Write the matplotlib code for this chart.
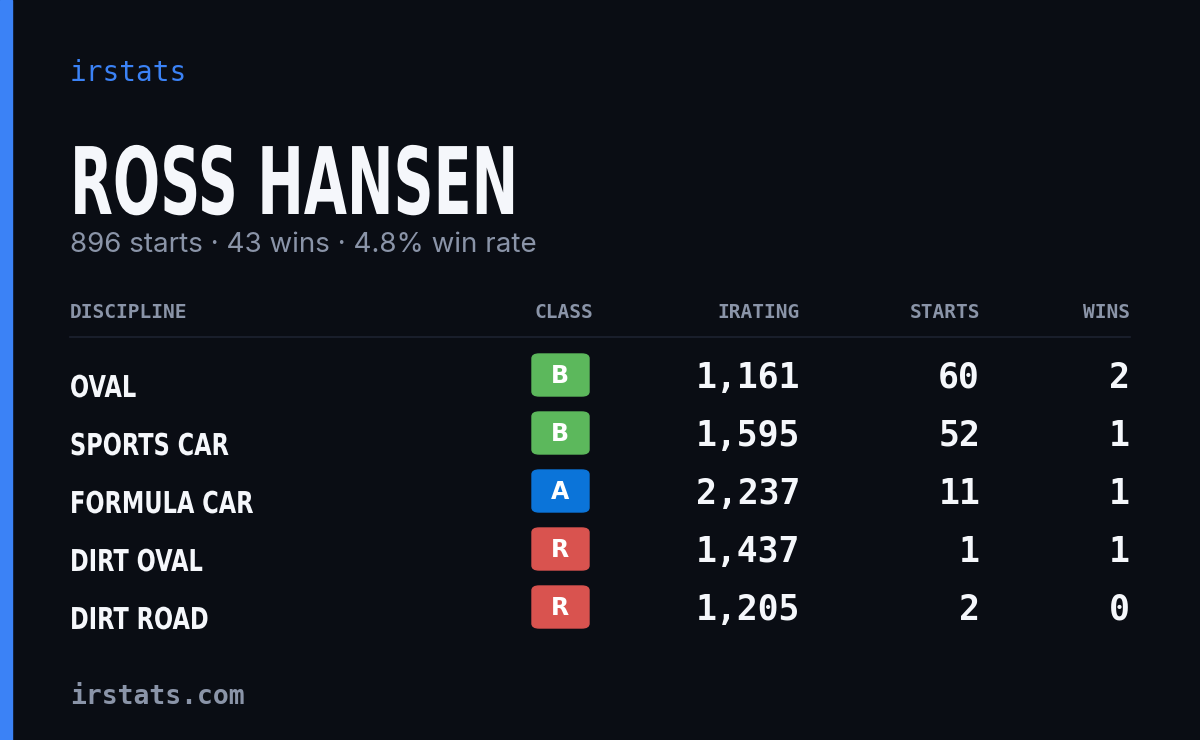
import matplotlib.pyplot as plt
from matplotlib.patches import FancyBboxPatch, Rectangle, PathPatch
from matplotlib.textpath import TextPath
from matplotlib.font_manager import FontProperties
from matplotlib.transforms import Affine2D

# data
driver = "ROSS HANSEN"
summary = "896 starts · 43 wins · 4.8% win rate"
headers = ["DISCIPLINE", "CLASS", "IRATING", "STARTS", "WINS"]
disciplines = ["OVAL", "SPORTS CAR", "FORMULA CAR", "DIRT OVAL", "DIRT ROAD"]
classes = ["B", "B", "A", "R", "R"]
iratings = [1161, 1595, 2237, 1437, 1205]
starts = [60, 52, 11, 1, 2]
wins = [2, 1, 1, 1, 0]
class_colors = {"A": "#0b74d9", "B": "#5cb85c", "R": "#d9534f"}

W, H = 1200, 740
BG = "#0a0d14"
fig = plt.figure(figsize=(W / 100, H / 100), dpi=100, facecolor=BG)
pix = Affine2D().scale(1 / W, 1 / H) + fig.transFigure


def px(x, y):
    return x / W, 1 - y / H


def txt(x, y, s, **kw):
    fig.text(*px(x, y), s, **kw)


bold = FontProperties(family="DejaVu Sans", weight="bold")


def narrow(x, baseline, s, cap, sx, color="#f5f7fb"):
    # condensed text: DejaVu Bold squeezed horizontally
    size = cap / 0.73
    tp = TextPath((0, 0), s, size=size, prop=bold)
    tr = Affine2D().scale(sx, 1).translate(x, H - baseline) + pix
    fig.patches.append(PathPatch(tp, transform=tr, color=color, lw=0))


def width_of(s, cap):
    return TextPath((0, 0), s, size=cap / 0.73, prop=bold).get_extents().width


fig.patches.append(Rectangle((0, 0), 12 / W, 1, transform=fig.transFigure, color="#3b82f6"))

mono = "DejaVu Sans Mono"

txt(70, 73, "irstats", family=mono, fontsize=20, color="#3b82f6", va="center")
narrow(70, 214, driver, 68, 438 / width_of(driver, 68))
txt(70, 245, summary, family="Inter", fontsize=20, color="#8a94a8", va="center")

hx = [70, 593, 800, 980, 1130]
ha = ["left", "right", "right", "right", "right"]
for x, h, a in zip(hx, headers, ha):
    txt(x, 313, h, family=mono, fontweight="bold", fontsize=14, color="#8a94a8", ha=a, va="center")
fig.add_artist(plt.Line2D([70 / W, 1130 / W], [1 - 337 / H] * 2, color="#1d2230", lw=1.2))

sx_rows = 181 / width_of("FORMULA CAR", 22)
for i, d in enumerate(disciplines):
    y = 378 + 58 * i
    narrow(70, y + 19, d, 22, sx_rows)
    x0, y0 = px(532, y + 18)
    fig.patches.append(FancyBboxPatch((x0, y0), 57 / W, 42 / H, boxstyle="round,pad=0,rounding_size=0.006",
                                      transform=fig.transFigure, color=class_colors[classes[i]]))
    txt(560, y - 2, classes[i], family="DejaVu Sans", fontweight="bold", fontsize=17, color="white",
        ha="center", va="center")
    for x, v in zip(hx[2:], [f"{iratings[i]:,}", str(starts[i]), str(wins[i])]):
        txt(x, y, v, family=mono, fontweight="bold", fontsize=25, color="#f5f7fb", ha="right", va="center")

txt(70, 697, "irstats.com", family=mono, fontweight="bold", fontsize=19, color="#8a94a8", va="center")

fig.savefig("out.png", dpi=100, facecolor=BG)
